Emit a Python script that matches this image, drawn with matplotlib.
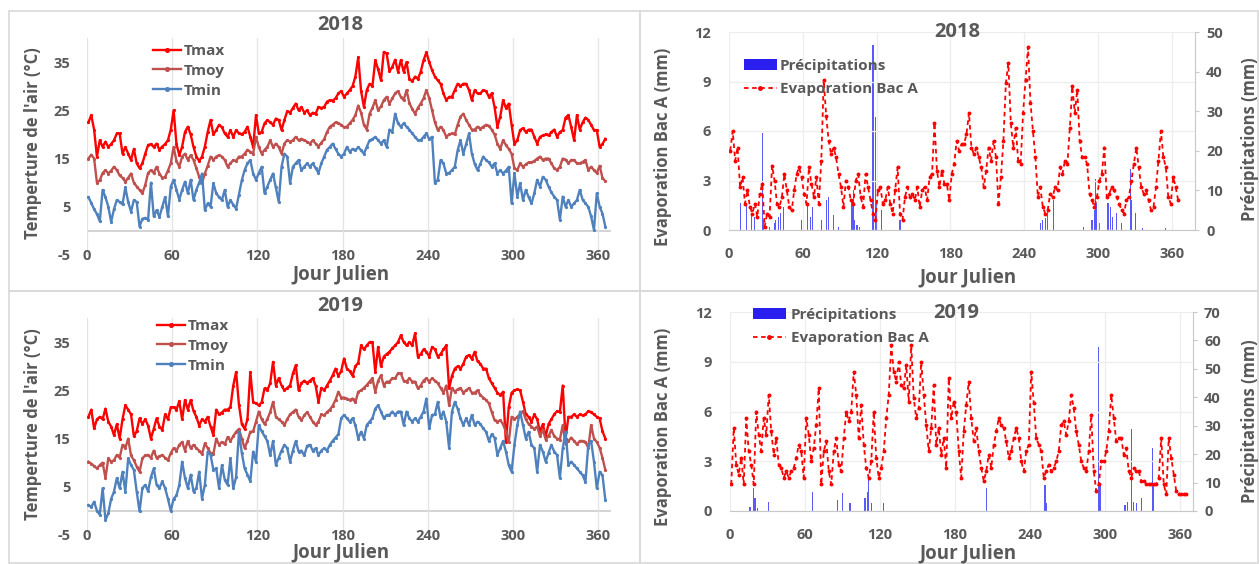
import numpy as np
import matplotlib
matplotlib.use('Agg')
import matplotlib.pyplot as plt
from matplotlib.patches import Patch, Rectangle
from matplotlib.lines import Line2D

# ---------------- data (one value every 2 days: J1, J3, ... J365) ----------------
tmax_2018 = [22.5, 24, 21, 15.4, 18.8, 17.4, 18.5, 17.4, 18, 18.8,
             20.2, 20.2, 16, 17.4, 16, 14.7, 17, 14, 13, 14,
             16, 17.8, 18, 17.4, 18.1, 16.8, 17.5, 18, 18.8, 21,
             25, 18, 15.7, 17.5, 20.5, 21.6, 20, 17.4, 15.4, 14.5,
             15.4, 17.5, 20.5, 23, 20, 20.9, 22, 21.5, 20.2, 19.5,
             20.9, 19.5, 20.9, 20.2, 20, 20.5, 21.6, 19.5, 17.4, 24,
             20.2, 20.5, 22.3, 23, 22.5, 22, 23.3, 23, 20.9, 23,
             24.8, 24.5, 25.5, 26.4, 25, 25.7, 24.5, 25, 24, 24.5,
             24.3, 25.7, 25.5, 25.7, 26.8, 27.1, 27, 27.5, 28.5, 29,
             27.8, 28.5, 29.2, 30, 32, 36, 29, 25.7, 29.2, 30.5,
             30, 35.4, 33.5, 31.2, 37.1, 36.8, 33.1, 34, 35.5, 33,
             35.4, 33, 35, 31.5, 31, 32, 31.5, 33, 35.4, 37,
             35, 33.3, 32, 31.2, 30.5, 28.5, 27.1, 27.8, 27.8, 29.2,
             30.5, 30, 30.5, 30.5, 29.2, 27.1, 29.2, 28.5, 28.5, 29.2,
             29, 27.8, 28.5, 25.7, 21.6, 23.7, 27.1, 25.5, 26.4, 22,
             18, 18.8, 20.9, 21.3, 20.5, 21, 21, 19.5, 18.1, 19.5,
             19.8, 20, 19.8, 20.5, 21, 19.5, 20.5, 20.9, 23.5, 24,
             21.5, 18.8, 24, 21, 22.5, 23.5, 23, 22, 20.9, 20.9,
             17.4, 18, 19.1]
tmoy_2018 = [15, 15.8, 15, 10, 10.5, 12, 12.6, 11.9, 12.5, 13.3,
             12.6, 11.5, 11, 10.2, 11, 11.9, 10, 9.2, 8.5, 7.8,
             9.5, 12, 12.6, 12, 13.3, 11.9, 11, 11.2, 12.5, 14,
             17.4, 14.5, 13.3, 15.4, 16, 14.7, 15.7, 14.7, 13, 11.2,
             9.9, 11.9, 13.5, 15.4, 14.7, 15.4, 15.7, 15.4, 14.7, 13.3,
             14, 14.7, 14.5, 15.4, 15.4, 16, 16.8, 16.4, 16, 19.5,
             17.4, 16, 16.8, 17.4, 18.8, 17.4, 18.1, 17.4, 16, 18.1,
             18.8, 18.5, 18.8, 19.5, 18.8, 19.1, 18.8, 18.5, 18.1, 18.8,
             18.1, 17.5, 18.3, 19, 20.5, 21.6, 22, 22.5, 22.3, 22,
             21.5, 21.6, 22.3, 23, 24, 26, 24.5, 22, 21, 24.3,
             25.5, 27.1, 25, 25.8, 27.1, 27.8, 26.4, 27.5, 28.5, 29,
             27.8, 27.1, 29.2, 26.5, 25.3, 24.3, 25.5, 26.4, 27.5, 29.2,
             27.5, 25, 22.5, 20.9, 21.6, 20.9, 19.5, 20, 20.2, 20,
             22, 23.7, 24.3, 23, 22, 21, 21, 21.6, 21.2, 21.6,
             22, 21.8, 21, 20, 18.1, 17, 18.8, 17.8, 17, 16,
             13, 12.6, 14, 13.3, 13.8, 14.2, 14.2, 14.5, 15, 15.4,
             14.7, 15, 15, 14, 13, 12.6, 13.3, 15, 14.8, 14,
             14.7, 14.7, 14, 14, 14.3, 14.7, 12.6, 13.3, 12.6, 12,
             13.5, 11, 10.3]
tmin_2018 = [7, 5.8, 4.5, 3.5, 2, 8.5, 7, 5, 1.9, 4.5,
             6.4, 6, 5.5, 9, 6, 4, 6.4, 6, 0.9, 2.5,
             2.7, 2.3, 10, 3, 4.3, 2.9, 5, 7, 3, 9.2,
             10.6, 8.5, 6.5, 8.5, 10.2, 7.8, 10.6, 6.4, 8.5, 10,
             11.9, 4.3, 5.7, 5, 9.9, 7.8, 7, 6.4, 8.5, 5,
             6.4, 5.4, 4.6, 7.5, 10.5, 12.6, 14, 14.7, 11.9, 10.6,
             12, 13.3, 7.8, 9.2, 10.6, 11.9, 9, 6, 13.3, 16,
             15.4, 9.9, 13.3, 14, 14.7, 12.6, 13.3, 14, 13.3, 14,
             13, 12, 14, 15.4, 16.8, 17.4, 18.1, 17, 16, 15.4,
             16, 17.4, 16.4, 17, 16.7, 17.4, 16.7, 16, 17.4, 18.8,
             19, 19.5, 18.8, 18.1, 18.8, 17.4, 21, 20.5, 24.3, 22.3,
             21.6, 22.3, 21.6, 21, 20.2, 19.5, 18.8, 18.8, 19.5, 20.2,
             19, 19.5, 9.9, 10.6, 14.7, 14, 11.9, 12, 12.6, 13.3,
             16.7, 18.8, 16, 18, 20.2, 16, 13.9, 12.6, 13.9, 15.4,
             14.7, 14.2, 13.3, 14, 11.9, 12.6, 11.9, 12.5, 13.3, 5.7,
             12, 7.1, 9.9, 6.4, 8.5, 7, 5.7, 7.8, 10.6, 9.2,
             11.2, 10.6, 9.2, 8, 7.1, 6.4, 2.3, 7.1, 5, 6.4,
             5, 5.7, 6.4, 8.5, 6.5, 5.7, 5, 3, 0.2, 7.8,
             5, 3.6, 0.9]

tmax_2019 = [19.5, 21, 17.1, 19, 19.5, 19, 21.2, 18.5, 17.5, 15.7,
             18, 15, 19, 21.9, 21, 20, 15.5, 16.5, 19.2, 18,
             19, 17.7, 15, 17, 19.2, 17.5, 16.8, 20, 19, 21.5,
             21.5, 21, 22.7, 19, 23, 21, 23, 20.7, 19.5, 17.7,
             19, 18.5, 19.5, 17.5, 15.7, 21, 20, 20.4, 21, 21,
             21.5, 26, 28.8, 22, 18, 17, 19, 28.8, 22.5, 22.3,
             21.9, 22.5, 25.4, 25, 26.5, 30.9, 26, 27.5, 26, 25,
             25.5, 26, 28.5, 30.2, 25, 26.5, 27, 26.5, 27, 27.5,
             26, 22.6, 25.5, 25, 26, 27, 28.1, 29.5, 28, 29,
             31.6, 29.5, 29, 28, 30, 30.7, 34.3, 33.5, 34.3, 35,
             35, 28.8, 34, 30, 32, 32.5, 33, 33.7, 34.3, 35,
             36.4, 35, 34.3, 35, 34.3, 36.8, 32, 32.5, 33.5, 33,
             32, 34, 33.5, 32, 32.5, 33.5, 34.3, 25.4, 28, 29.5,
             30, 29.5, 30.5, 32, 32.3, 31.5, 33, 31, 30.5, 29.5,
             29.5, 27.5, 26.5, 25.5, 24.5, 24, 24.7, 14.3, 21.5, 24.5,
             25, 25.2, 25, 22.6, 20, 19.5, 18.5, 20, 19, 16.4,
             18, 15.5, 18, 19, 20, 20.7, 20.5, 26, 15, 19.5,
             19.5, 20, 19.5, 20, 19.8, 20, 20.7, 20.5, 20, 19.5,
             19.2, 16.5, 15]
tmoy_2019 = [10.2, 9.8, 9.3, 8.8, 9.5, 10, 6.8, 10.9, 10.2, 10.5,
             11.6, 11, 13.7, 13, 15, 11.5, 10.5, 9.2, 8.1, 10.9,
             11.5, 11.6, 11, 12.5, 11, 11.3, 11.6, 11, 10.5, 12,
             13, 12.5, 13.7, 14.3, 12.5, 14.5, 13, 13.7, 13, 12.5,
             11.8, 14, 13, 12, 11.8, 15, 13.7, 14.3, 13.8, 15.3,
             14.5, 15.5, 16.4, 17, 15, 13, 14.5, 16.4, 16.5, 18.5,
             20.6, 19, 18, 19, 20.5, 22.6, 19.5, 19, 18.5, 17.8,
             19, 20, 20.5, 21, 19.5, 18.8, 19.8, 20.5, 19.5, 18.5,
             17.8, 18.5, 20, 19.8, 20.5, 21, 21.8, 23, 24.7, 23.5,
             23.5, 23.3, 23, 23.3, 22.5, 24.7, 25, 25.5, 26.1, 26.8,
             27.5, 24.7, 27, 28.1, 26, 26.8, 26.8, 27.5, 27.5, 28.5,
             28.5, 27, 26.8, 27.5, 26.8, 26.8, 25.4, 26, 27, 27.5,
             26.8, 27.5, 27, 26.5, 25.5, 24.5, 26, 21.9, 25.5, 24.7,
             25.2, 25.5, 24.5, 25, 25.5, 24.5, 24.5, 25, 24, 23.5,
             23, 22.3, 20.5, 18.8, 18.5, 18.8, 18, 16.4, 14.3, 19.5,
             19, 19.5, 20, 20.7, 19, 18, 17.5, 17, 17.5, 15.5,
             16.8, 14.8, 15.5, 16.8, 15.5, 15, 14.8, 17.8, 13.8, 14.5,
             15.2, 14.5, 13.8, 14.5, 14.5, 14.3, 13.1, 17.8, 15, 14.3,
             13.1, 11, 8.5]
tmin_2019 = [1.2, 0.8, 1.9, 0, -0.8, 4.7, -1.9, -0.5, 2.5, 4,
             6.8, 4.7, 8.1, 4, 10.9, 9.5, 8.5, 4, -0.1, 4.7,
             5.4, 4.1, 7, 8.8, 5.4, 4.7, 6.1, 4.7, 2.5, 0,
             2.5, 3.2, 5.4, 10.2, 6.8, 4.7, 7.5, 4, 4.7, 8.1,
             2.5, 5.4, 12.3, 11.6, 8.5, 8.8, 4.7, 9.5, 6.5, 5.4,
             10.9, 4.7, 7, 16.4, 12, 8.8, 7.5, 6.1, 12.3, 10.2,
             17.8, 16.5, 15.5, 14.5, 11.5, 14.5, 9.5, 11, 12.5, 13.7,
             13, 10.2, 12.5, 14.5, 12.3, 12.5, 11.5, 13.5, 13.7, 12.5,
             13, 11.6, 12.5, 13, 12.5, 13.7, 14.5, 15.2, 15.9, 19.2,
             19.9, 19.2, 18.5, 19.2, 17.8, 15, 16.4, 15, 17.8, 18.5,
             19.2, 21.2, 21.9, 20.6, 19.2, 19.9, 19.9, 20.6, 19.9, 20.6,
             20.6, 17.8, 20.6, 19.2, 18.5, 19.2, 18.5, 19.5, 20.6, 23.3,
             17.1, 19.9, 20, 22.6, 19.2, 20.6, 18.5, 13, 20.6, 22.6,
             21.2, 19.2, 17.8, 19.2, 17.8, 19.9, 17.8, 18.5, 18, 17.1,
             16.4, 14.5, 15.9, 15.2, 11.6, 13, 14.5, 12.3, 9.5, 8.1,
             13.7, 17.8, 20.6, 17.8, 15, 16.4, 13.7, 13, 8.1, 13.7,
             12.3, 10.2, 12, 13.7, 12.3, 11.6, 6.8, 13, 16.4, 9.5,
             10.2, 9.5, 8.8, 8.1, 7.4, 6, 13.7, 14.5, 10.2, 4.7,
             8.1, 7.4, 2.3]

evap_2018 = [4.8, 6, 4.2, 5, 2.6, 3.2, 1.6, 2.4, 1.4, 1,
             1.6, 0.8, 2.2, 2.8, 0.2, 1, 0.8, 3.9, 3, 1.6,
             1.4, 2, 3.4, 2.4, 1.4, 1.2, 2.4, 3.4, 3.8, 3.2,
             2.2, 1.6, 3.8, 2.8, 2, 3.2, 1.6, 4.2, 9.1, 6.9,
             5.4, 4.6, 5, 4.4, 3.4, 2.6, 1.4, 3, 2.6, 1.8,
             1.6, 3, 3.4, 2, 1.4, 3.4, 2.6, 1.8, 1, 0.6,
             2.4, 2.6, 1.6, 1.8, 2.6, 1.6, 1, 2.4, 3.8, 1,
             0.6, 2, 2.6, 2, 2.2, 1.8, 2.6, 1.4, 2.4, 2.6,
             1.8, 3.2, 3.4, 6.5, 3.6, 2.6, 3.6, 2.8, 2.8, 1.8,
             3.4, 4, 5.4, 4.8, 5.2, 5.2, 5.8, 7.1, 5, 4.6,
             5, 4.4, 3.8, 2.6, 3.6, 5, 4.2, 5.4, 4.4, 1.6,
             3.2, 5.4, 8.9, 10.1, 6.5, 5, 6.2, 4.2, 4, 7.1,
             9.1, 11.1, 7.7, 6, 4.4, 2, 2.6, 1.4, 1, 1.2,
             2.2, 2, 2.6, 2.4, 3.8, 3.4, 4.2, 4, 6.2, 8.7,
             7.1, 8.5, 5.4, 4.4, 4.4, 4, 2.2, 1.8, 1.4, 2,
             3, 3.4, 5, 2, 2.2, 2.6, 2.4, 2, 1.6, 1.2,
             1, 1.8, 2, 3, 4, 5, 3.8, 2.6, 2.2, 2.4,
             1.8, 1.2, 1.4, 2.6, 4.2, 6, 4.4, 3.8, 2, 1.6,
             3.2, 2.6, 1.8]
evap_2019 = [1.6, 5, 2.8, 2.2, 3.2, 1.6, 5.6, 3.6, 2.8, 1.6,
             6, 4.6, 3.6, 5.6, 4.6, 7, 4.8, 3.4, 4.4, 2.8,
             2.6, 2, 2.4, 2, 2.4, 2.6, 3.2, 4, 3.6, 2,
             5.6, 4.6, 3, 3.8, 5.2, 7.4, 1.6, 3.6, 4.2, 2.4,
             1.6, 3.6, 4.4, 2.8, 2.4, 4.4, 6, 5.4, 6, 8.4,
             7, 4.4, 6.4, 4, 2.6, 2, 3, 6, 3.2, 2,
             2.6, 3.6, 5.6, 7, 10, 8.4, 7.8, 9, 7.6, 7.4,
             8.8, 6.6, 10, 6.8, 5.6, 6.2, 9, 7, 5.2, 3.6,
             5, 7.6, 4, 5, 3.4, 4.4, 2.6, 8, 5.6, 6.6,
             6, 3.6, 2, 4.8, 6.4, 7.8, 5.6, 4.2, 5, 3.6,
             2.6, 1.8, 2.4, 3.4, 2.6, 4, 4.8, 5.6, 5.2, 5,
             4.2, 3.2, 3.6, 4.4, 5, 4.4, 3, 2.4, 3.6, 4,
             8.4, 6.5, 4.4, 4, 3.6, 2, 2.4, 2.8, 2.4, 2.6,
             3, 3.6, 5.2, 5.4, 4.6, 5.4, 7, 6.2, 4.8, 4,
             3, 2.6, 2.4, 3.6, 5.8, 2.4, 1.2, 1.6, 3, 3,
             3.6, 4.8, 7, 5.6, 4.2, 4.4, 4.4, 3.4, 3.8, 2.4,
             2, 2.6, 2.4, 2.4, 1.8, 1.8, 1.6, 1.6, 1.6, 1.6,
             1.6, 2, 4.4, 1.6, 1, 4.4, 3.2, 2.2, 1.2, 1,
             1, 1, 1]

pluie_2018_jours = [9, 14, 18, 21, 27, 28, 33, 37, 38, 40, 42, 44, 59, 64, 66, 68, 75, 79, 81, 85,
                    89, 100, 101, 102, 104, 106, 117, 119, 120, 124, 139, 253, 255, 257, 259, 264,
                    288, 295, 297, 298, 299, 301, 308, 310, 312, 315, 319, 326, 327, 330, 336, 355]
pluie_2018_mm = [6.7, 6.7, 4.2, 3.4, 24.4, 2.5, 0.8, 1.7, 2.5, 3.4, 4.2, 5.9, 2.5, 6.7, 3.4, 5.9, 2.5, 7.6, 8.4, 3.8,
                 0.8, 7.6, 10, 2.5, 1.3, 0.8, 46.6, 28.6, 7.6, 5, 2.5, 1.7, 2.5, 3, 5, 7.6,
                 0.8, 2.5, 5, 13, 6.7, 1.7, 6.7, 5.9, 3.4, 4.2, 1.7, 15.5, 7.6, 4.2, 0.4, 0.4]
pluie_2019_jours = [16, 19, 20, 22, 31, 66, 86, 90, 96, 108, 110, 111, 113, 123, 205, 252, 253,
                    295, 296, 316, 318, 321, 323, 325, 329, 338, 339]
pluie_2019_mm = [1.5, 8, 4.4, 1, 3.3, 6.8, 3.9, 6.2, 2.7, 4.4, 6.7, 10.9, 2.7, 2.7, 8, 9.1, 2.7,
                 57.7, 9, 2, 3.3, 29, 3.3, 2.7, 4.7, 22, 9]

x_ticks = [0, 60, 120, 180, 240, 300, 360]
t_ticks = [-5, 5, 15, 25, 35]
e_ticks = [0, 3, 6, 9, 12]

# ---------------- style ----------------
W, H = 1259, 564
plt.rcParams['font.family'] = ['Open Sans', 'DejaVu Sans']
plt.rcParams['font.weight'] = 'bold'
plt.rcParams['axes.unicode_minus'] = False
TXT = '#595959'
GRID = '#E3E3E3'
AXL = '#C8C8C8'
C_MAX, C_MOY, C_MIN = '#FF0000', '#C0504D', '#4F81BD'
C_EVAP, C_RAIN, C_RAIN_BAR = '#FF0000', '#2B1FF0', '#5A5AFA'

fig = plt.figure(figsize=(W / 100, H / 100), dpi=100)
fig.patch.set_facecolor('white')


def fx(px):
    return px / W


def fy(py):
    return 1 - py / H


# chart frames
for (x0, y0, x1, y1) in [(9, 11, 640, 291), (640, 11, 1258, 291), (9, 291, 640, 563), (640, 291, 1258, 563)]:
    fig.add_artist(Rectangle((fx(x0), fy(y1)), (x1 - x0) / W, (y1 - y0) / H,
                             transform=fig.transFigure, fill=False, ec='#D9D9D9', lw=1.2))


def jours_of(vals):
    return 1 + 2 * np.arange(len(vals))


def temp_panel(box, tmax, tmoy, tmin, year, title_xy, xlab_xy, ylab_xy, leg_xy):
    ax = fig.add_axes(box)
    ax.set_xlim(0, 369)
    ax.set_ylim(-5, 40)
    for s in ax.spines.values():
        s.set_visible(False)
    ax.set_xticks(x_ticks)
    ax.set_yticks(t_ticks)
    ax.grid(True, axis='x', color=GRID, lw=0.9, zorder=0)
    ax.axhline(0, color=AXL, lw=1.1, zorder=1)
    ax.tick_params(axis='both', length=0, labelsize=10.5, labelcolor=TXT)
    ax.tick_params(axis='x', pad=-4.3)
    ax.tick_params(axis='y', pad=12)
    kw = dict(lw=1.7, marker='o', ms=1.3, zorder=3)
    ax.plot(jours_of(tmax), tmax, color=C_MAX, label='Tmax', **kw)
    ax.plot(jours_of(tmoy), tmoy, color=C_MOY, label='Tmoy', **kw)
    ax.plot(jours_of(tmin), tmin, color=C_MIN, label='Tmin', **kw)
    ax.legend(loc='upper left', bbox_to_anchor=(fx(leg_xy[0]), fy(leg_xy[1])), bbox_transform=fig.transFigure,
              frameon=False, borderpad=0, borderaxespad=0, handlelength=1.8, handletextpad=0.2,
              labelspacing=0.38, fontsize=11, labelcolor=TXT, markerscale=2.0)
    fig.text(fx(title_xy[0]), fy(title_xy[1]), year, ha='center', va='center', fontsize=14.5, color=TXT)
    fig.text(fx(xlab_xy[0]), fy(xlab_xy[1]), 'Jour Julien', ha='center', va='center', fontsize=13.5, color=TXT)
    fig.text(fx(ylab_xy[0]), fy(ylab_xy[1]), "Temperture de l'air (°C)", ha='center', va='center',
             rotation=90, fontsize=12, color=TXT)
    return ax


def evap_panel(box, xmax, evap, pj, pm, pmax, pticks, year, title_xy, xlab_xy, ylab_xy, ylab2_xy, leg_xy, tpad):
    ax = fig.add_axes(box)
    ax2 = ax.twinx()
    ax.set_zorder(ax2.get_zorder() + 1)
    ax.patch.set_visible(False)
    for a in (ax, ax2):
        a.set_xlim(0, xmax)
        for s in a.spines.values():
            s.set_visible(False)
    ax.set_ylim(0, 12)
    ax2.set_ylim(0, pmax)
    ax.set_xticks(x_ticks)
    ax.set_yticks(e_ticks)
    ax2.set_yticks(pticks)
    ax.grid(True, color='#EDEDED', lw=0.9, zorder=0)
    ax.spines['bottom'].set_visible(True)
    ax.spines['bottom'].set_color(AXL)
    ax2.spines['right'].set_visible(True)
    ax2.spines['right'].set_color(AXL)
    ax.tick_params(axis='both', length=0, labelsize=10.5, labelcolor=TXT)
    ax.tick_params(axis='x', pad=12)
    ax.tick_params(axis='y', pad=13)
    ax2.tick_params(axis='y', length=3, color=AXL, pad=5, labelsize=10.5, labelcolor=TXT)
    ax2.bar(pj, pm, width=0.9, color=C_RAIN_BAR, linewidth=0, zorder=2)
    ax.plot(jours_of(evap), evap, color=C_EVAP, lw=1.3, ls=(0, (2.5, 2.0)), marker='o', ms=1.8, zorder=3)
    handles = [Patch(facecolor=C_RAIN, edgecolor='none'),
               Line2D([], [], color=C_EVAP, lw=1.3, ls=(0, (2.5, 2.0)), marker='o', ms=2.5)]
    ax.legend(handles, ['Précipitations', 'Evaporation Bac A'], loc='upper left',
              bbox_to_anchor=(fx(leg_xy[0]), fy(leg_xy[1])), bbox_transform=fig.transFigure,
              frameon=False, borderpad=0, borderaxespad=0, handlelength=2.15, handletextpad=tpad,
              labelspacing=0.6, fontsize=11, labelcolor=TXT)
    fig.text(fx(title_xy[0]), fy(title_xy[1]), year, ha='center', va='center', fontsize=14.5, color=TXT)
    fig.text(fx(xlab_xy[0]), fy(xlab_xy[1]), 'Jour Julien', ha='center', va='center', fontsize=13.5, color=TXT)
    fig.text(fx(ylab_xy[0]), fy(ylab_xy[1]), 'Evaporation Bac A (mm)', ha='center', va='center',
             rotation=90, fontsize=12, color=TXT)
    fig.text(fx(ylab2_xy[0]), fy(ylab2_xy[1]), 'Précipitations (mm)', ha='center', va='center',
             rotation=90, fontsize=12, color=TXT)
    return ax


temp_panel([fx(87), fy(255), (611 - 87) / W, (255 - 38) / H], tmax_2018, tmoy_2018, tmin_2018, '2018',
           (340, 25), (341, 274), (33, 143), (153, 44))
temp_panel([fx(87), fy(535), (611 - 87) / W, (535 - 318) / H], tmax_2019, tmoy_2019, tmin_2019, '2019',
           (340, 306), (341, 552), (33, 424), (157, 319))

evap_panel([fx(729), fy(230), (1195 - 729) / W, 198 / H], 378.7, evap_2018, pluie_2018_jours, pluie_2018_mm,
           50, [0, 10, 20, 30, 40, 50], '2018', (957, 32), (968, 277), (663, 147), (1250, 139), (744, 59), 0.2)
evap_panel([fx(730), fy(511), (1193 - 730) / W, 199 / H], 370.4, evap_2019, pluie_2019_jours, pluie_2019_mm,
           70, [0, 10, 20, 30, 40, 50, 60, 70], '2019', (956, 313), (968, 553), (663, 427), (1250, 421),
           (753, 308), 0.33)

fig.savefig('out.png', dpi=100, facecolor='white')
